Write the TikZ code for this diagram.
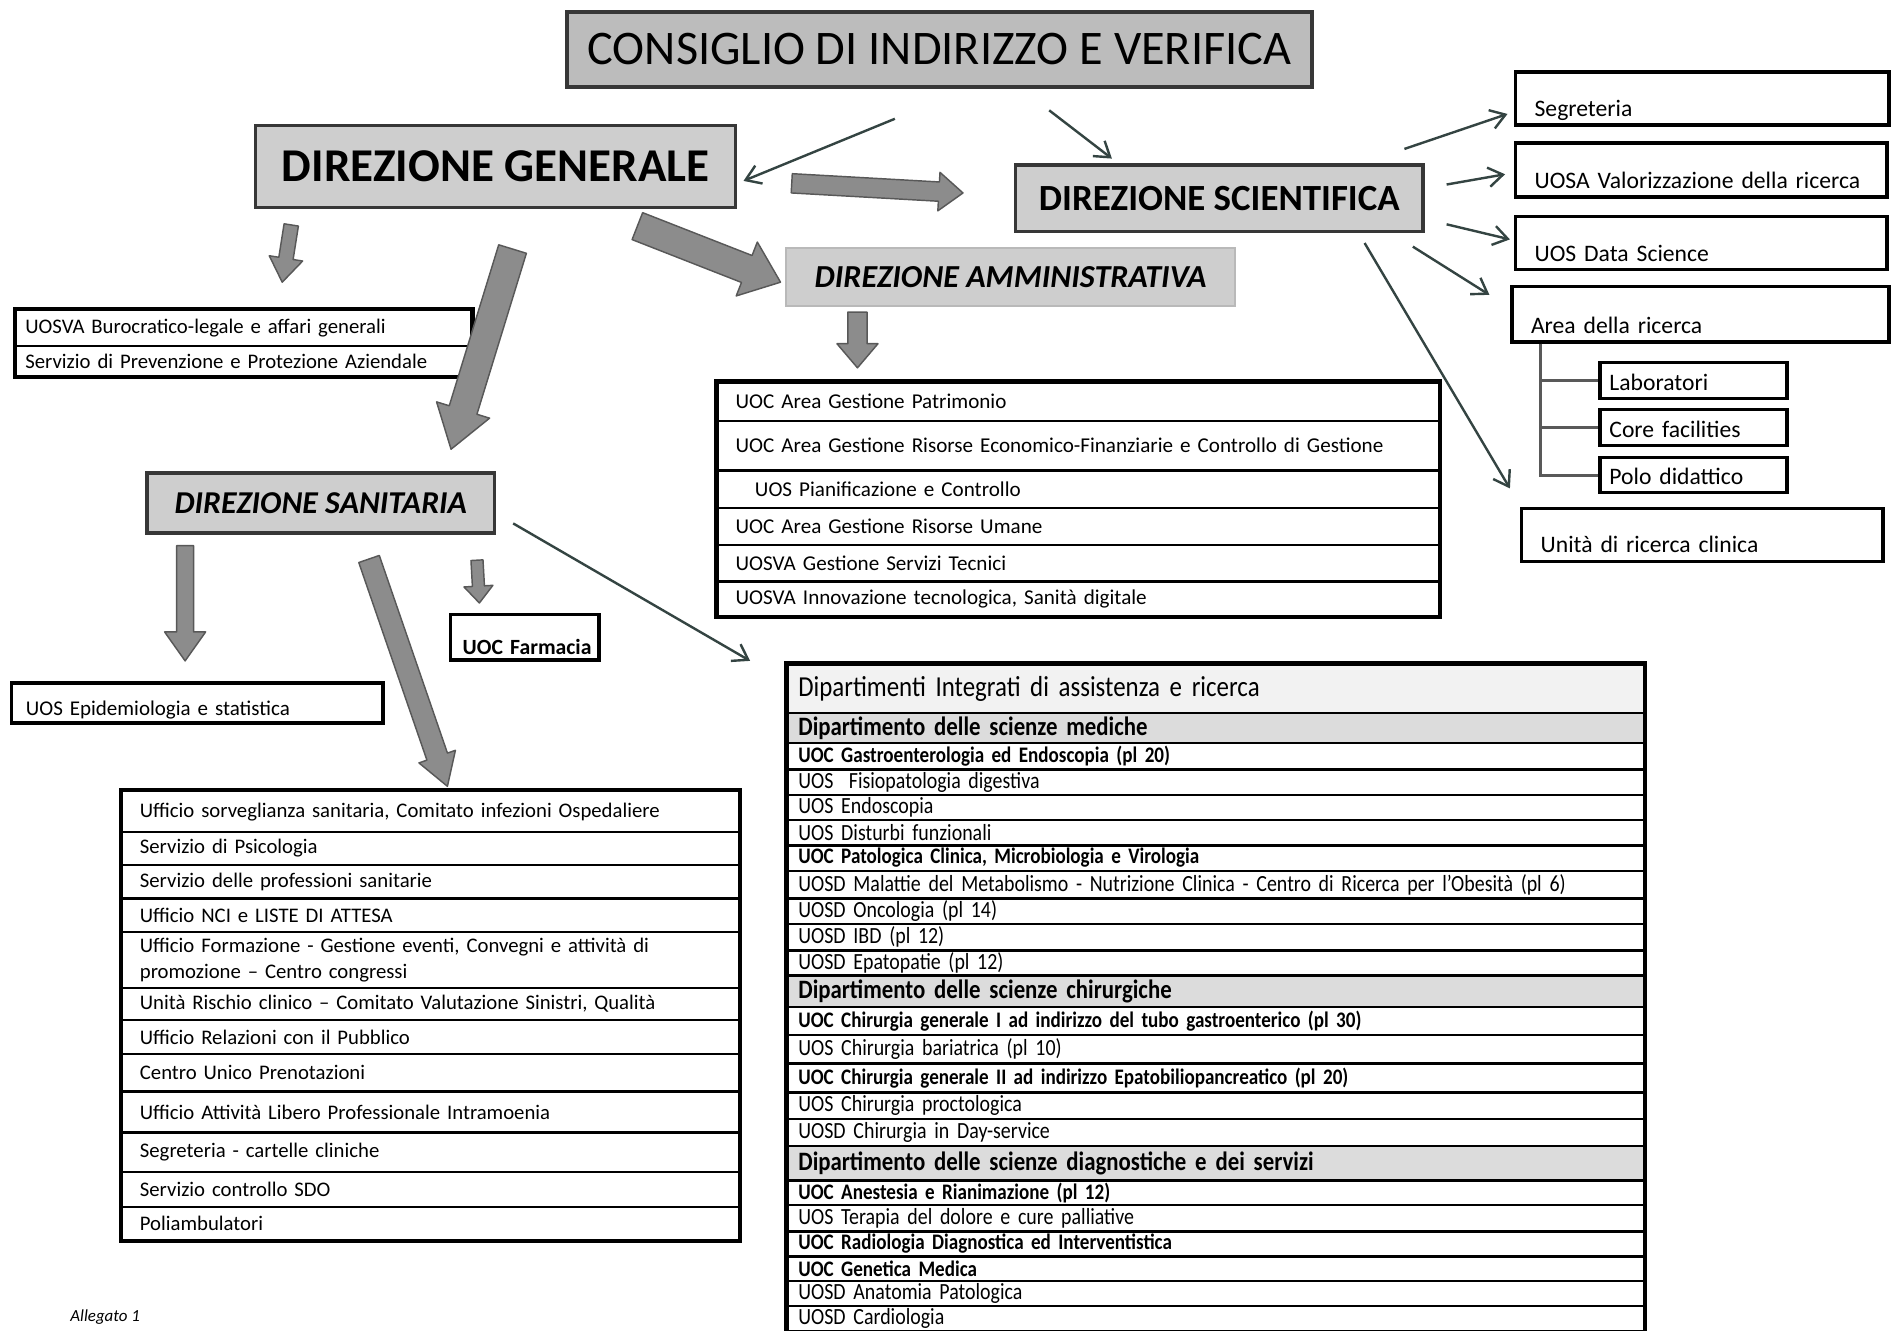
\documentclass[tikz,border=0pt]{standalone}
\usepackage{fontspec}
\setmainfont{Carlito}
\newfontfamily\condfont[FakeStretch=0.86]{Carlito}
\usetikzlibrary{calc,arrows.meta}

\definecolor{boxline}{RGB}{55,55,55}
\definecolor{headfill}{RGB}{188,188,188}
\definecolor{subfill}{RGB}{206,206,206}
\definecolor{arrline}{RGB}{52,68,66}
\definecolor{fatfill}{RGB}{140,140,140}
\definecolor{fatline}{RGB}{88,88,88}
\definecolor{depfill}{RGB}{220,220,220}

\tikzset{
  mainbox/.style={draw=boxline, line width=1.5pt, fill=subfill, inner sep=0pt},
  thinarr/.style={draw=arrline, line width=1pt, -{Straight Barb[length=6pt,width=8pt]}},
  fatarr/.style={draw=fatline, fill=fatfill, line width=0.6pt, line join=round},
  rbox/.style={draw, line width=1.5pt, anchor=north west, align=left, inner xsep=8pt,
    inner ysep=1.5pt, text depth=2pt, font=\fontsize{9.8}{11}\selectfont},
  cell/.style={draw, line width=1pt, anchor=north west, align=left, inner ysep=0pt},
  admcell/.style={text width=284pt, inner xsep=7.5pt, font=\fontsize{8.75}{10}\selectfont},
  sancell/.style={text width=241pt, inner xsep=7.5pt, font=\fontsize{8.6}{10.5}\selectfont},
  vbcell/.style={text width=181pt, inner xsep=4pt, font=\fontsize{8.6}{10}\selectfont},
  dipcell/.style={text width=346pt, inner xsep=4.5pt},
  dhead/.style={fill=gray!10, font=\condfont\fontsize{12}{13}\selectfont},
  ddep/.style={fill=depfill, font=\condfont\bfseries\fontsize{11}{12}\selectfont},
  drow/.style={font=\condfont\fontsize{9.6}{10}\selectfont},
  drowb/.style={font=\condfont\bfseries\fontsize{9.2}{10}\selectfont},
  tabframe/.style={draw, line width=1.6pt},
  tree/.style={draw=gray!70!black, line width=1.2pt},
}

% block arrow: from, to, half shaft, half head, head length
\newcommand{\fatarrow}[5]{%
  \draw[fatarr] let \p1=(#1), \p2=(#2),
    \n1={atan2(\y2-\y1,\x2-\x1)}, \n2={veclen(\x2-\x1,\y2-\y1)-#5} in
    ($(\p1)+(\n1+90:#3)$) -- ($(\p1)+(\n1:\n2)+(\n1+90:#3)$)
    -- ($(\p1)+(\n1:\n2)+(\n1+90:#4)$) -- (\p2)
    -- ($(\p1)+(\n1:\n2)+(\n1-90:#4)$) -- ($(\p1)+(\n1:\n2)+(\n1-90:#3)$)
    -- ($(\p1)+(\n1-90:#3)$) -- cycle;}

\begin{document}
\begin{tikzpicture}[x=0.5pt, y=-0.5pt]
\useasboundingbox (0,0) rectangle (1568,1103);

% direzioni
\node[mainbox, fill=headfill, minimum width=309pt, minimum height=31pt,
  font=\fontsize{20}{24}\selectfont] (civ) at (779,41) {CONSIGLIO DI INDIRIZZO E VERIFICA};
\node[mainbox, minimum width=199pt, minimum height=34pt,
  font=\bfseries\fontsize{19.5}{23}\selectfont] (dg) at (411,138) {DIREZIONE GENERALE};
\node[mainbox, minimum width=169pt, minimum height=27.5pt,
  font=\bfseries\fontsize{15.3}{18}\selectfont] (ds) at (1011,164.5) {DIREZIONE SCIENTIFICA};
\node[mainbox, draw=gray!55, line width=0.8pt, minimum width=186pt, minimum height=24pt,
  font=\bfseries\itshape\fontsize{13.3}{16}\selectfont] (dam) at (838,230) {DIREZIONE AMMINISTRATIVA};
\node[mainbox, minimum width=144pt, minimum height=25pt,
  font=\bfseries\itshape\fontsize{13.2}{16}\selectfont] (dsan) at (266,417) {DIREZIONE SANITARIA};

% direzione scientifica
\node[rbox, text width=139pt, text height=17pt] (segr) at (1255,58) {Segreteria};
\node[rbox, text width=138pt, text height=17.5pt] (uosa) at (1255,117) {UOSA Valorizzazione della ricerca};
\node[rbox, text width=138pt, text height=17pt] (uosds) at (1255,178) {UOS Data Science};
\node[rbox, text width=140.5pt, text height=18pt] (area) at (1252,236) {Area della ricerca};
\node[rbox, inner xsep=4pt, text width=69.5pt, text height=10pt] (lab) at (1325,299) {Laboratori};
\node[rbox, inner xsep=4pt, text width=69.5pt, text height=10pt] (core) at (1325,338) {Core facilities};
\node[rbox, inner xsep=4pt, text width=69.5pt, text height=9.5pt] (polo) at (1325,378) {Polo didattico};
\node[rbox, text width=134pt, text height=17pt] (urc) at (1260,420) {Unità di ricerca clinica};
\draw[tree] ([xshift=12.5pt]area.south west) |- (lab.west);
\draw[tree] ([xshift=12.5pt]area.south west) |- (core.west);
\draw[tree] ([xshift=12.5pt]area.south west) |- (polo.west);

% staff direzione generale
\node[cell, vbcell, minimum height=15pt] (vb1) at (12,256) {UOSVA Burocratico-legale e affari generali};
\node[cell, vbcell, minimum height=12.5pt] (vb2) at (12,286) {Servizio di Prevenzione e Protezione Aziendale};
\draw[tabframe] (vb1.north west) rectangle (vb2.south east);

% area amministrativa
\foreach \ya/\yb/\txt [count=\i] in {316/348/{UOC Area Gestione Patrimonio},
    348/389/{UOC Area Gestione Risorse Economico-Finanziarie e Controllo di Gestione},
    389/420/{\hspace{8pt}UOS Pianificazione e Controllo},
    420/451/{UOC Area Gestione Risorse Umane},
    451/481/{UOSVA Gestione Servizi Tecnici},
    481/510/{UOSVA Innovazione tecnologica, Sanità digitale}}
  \node[cell, admcell, minimum height={(\yb-\ya)*0.5pt}] (adm\i) at (594,\ya) {\txt};
\draw[tabframe] (adm1.north west) rectangle (adm6.south east);

% area sanitaria
\node[draw, line width=1.5pt, anchor=north west, align=right, inner xsep=3pt, inner ysep=1pt,
  text width=55.5pt, text height=15.5pt, text depth=1.5pt,
  font=\bfseries\fontsize{9}{10}\selectfont] (farm) at (372,508) {UOC Farmacia};
\node[draw, line width=1.5pt, anchor=north west, align=left, inner xsep=6pt, inner ysep=1pt,
  text width=142pt, text height=12.5pt, text depth=2pt,
  font=\fontsize{8.7}{10}\selectfont] (epi) at (8,565) {UOS Epidemiologia e statistica};

\foreach \ya/\yb/\txt [count=\i] in {655/689/{Ufficio sorveglianza sanitaria, Comitato infezioni Ospedaliere},
    689/716/{Servizio di Psicologia},
    716/744/{Servizio delle professioni sanitarie},
    744/772/{Ufficio NCI e LISTE DI ATTESA},
    772/818/{Ufficio Formazione - Gestione eventi, Convegni e attività di\\promozione – Centro congressi},
    818/845/{Unità Rischio clinico – Comitato Valutazione Sinistri, Qualità},
    845/873/{Ufficio Relazioni con il Pubblico},
    873/904/{Centro Unico Prenotazioni},
    904/938/{Ufficio Attività Libero Professionale Intramoenia},
    938/971/{Segreteria - cartelle cliniche},
    971/1000/{Servizio controllo SDO},
    1000/1027/{Poliambulatori}}
  \node[cell, sancell, minimum height={(\yb-\ya)*0.5pt}] (san\i) at (100,\ya) {\txt};
\draw[tabframe] (san1.north west) rectangle (san12.south east);

% dipartimenti
\foreach \ya/\yb/\st/\txt [count=\i] in {550/590/dhead/{Dipartimenti Integrati di assistenza e ricerca},
    590/615/ddep/{Dipartimento delle scienze mediche},
    615/637/drowb/{UOC Gastroenterologia ed Endoscopia (pl 20)},
    637/658/drow/{UOS\ \ Fisiopatologia digestiva},
    658/679/drow/{UOS Endoscopia},
    679/700/drow/{UOS Disturbi funzionali},
    700/721/drowb/{UOC Patologica Clinica, Microbiologia e Virologia},
    721/744/drow/{UOSD Malattie del Metabolismo - Nutrizione Clinica - Centro di Ricerca per l’Obesità (pl 6)},
    744/765/drow/{UOSD Oncologia (pl 14)},
    765/787/drow/{UOSD IBD (pl 12)},
    787/808/drow/{UOSD Epatopatie (pl 12)},
    808/834/ddep/{Dipartimento delle scienze chirurgiche},
    834/857/drowb/{UOC Chirurgia generale I ad indirizzo del tubo gastroenterico (pl 30)},
    857/881/drow/{UOS Chirurgia bariatrica (pl 10)},
    881/905/drowb/{UOC Chirurgia generale II ad indirizzo Epatobiliopancreatico (pl 20)},
    905/927/drow/{UOS Chirurgia proctologica},
    927/949/drow/{UOSD Chirurgia in Day-service},
    949/978/ddep/{Dipartimento delle scienze diagnostiche e dei servizi},
    978/998/drowb/{UOC Anestesia e Rianimazione (pl 12)},
    998/1020/drow/{UOS Terapia del dolore e cure palliative},
    1020/1041/drowb/{UOC Radiologia Diagnostica ed Interventistica},
    1041/1061/drowb/{UOC Genetica Medica},
    1061/1082/drow/{UOSD Anatomia Patologica},
    1082/1103/drow/{UOSD Cardiologia}}
  \node[cell, dipcell, \st, minimum height={(\yb-\ya)*0.5pt}] (dip\i) at (652,\ya) {\txt};
\draw[tabframe] (dip1.north west) rectangle (dip24.south east);

% frecce sottili
\draw[thinarr] ($(civ.south)+(-37,25)$) -- ($(dg.east)+(5,12)$);
\draw[thinarr] ($(civ.south)+(91,18)$) -- ($(ds.north)+(-89,-4)$);
\draw[thinarr] ($(ds.north east)+(-17,-12)$) -- ($(segr.west)+(-5,13)$);
\draw[thinarr] ($(ds.east)+(18,-11.5)$) -- ($(uosa.west)+(-7,3.5)$);
\draw[thinarr] ($(ds.east)+(18,21.5)$) -- ($(uosds.west)+(-3,-3)$);
\draw[thinarr] ($(ds.south east)+(-10,11)$) -- ($(area.west)+(-17,-16)$);
\draw[thinarr] ($(ds.south east)+(-50,8)$) -- ($(urc.north west)+(-8,-15)$);
\draw[thinarr] ($(dsan.east)+(14,17)$) -- ($(dip1.north west)+(-30,-2)$);

% frecce grandi
\fatarrow{$(dg.east)+(45,14)$}{$(ds.west)+(-42,-4.5)$}{4pt}{8pt}{10pt}
\fatarrow{$(dg.south east)+(-83,14)$}{$(dam.west)+(-4,4)$}{6pt}{12pt}{15pt}
\fatarrow{$(dg.south west)+(31,13)$}{$(vb1.north)+(32,-22)$}{3pt}{7pt}{10pt}
\fatarrow{$(dg.south)+(14,33)$}{$(dsan.north)+(108,-18)$}{6pt}{11.5pt}{17pt}
\fatarrow{$(dam.south)+(-127,4)$}{$(adm1.north west)+(117,-11)$}{4pt}{8.5pt}{10pt}
\fatarrow{$(dsan.south west)+(33,9)$}{$(epi.north)+(-10,-17)$}{3.5pt}{8.5pt}{12pt}
\fatarrow{$(dsan.south east)+(-16,21)$}{$(farm.north)+(-37.5,-8)$}{2.5pt}{6pt}{7pt}
\fatarrow{$(dsan.south)+(40,20)$}{$(san1.north)+(14,-3)$}{4.5pt}{8pt}{13pt}

\node[anchor=north west, inner sep=0pt, font=\itshape\fontsize{7}{8}\selectfont] (alleg) at (58,1086) {Allegato 1};
\end{tikzpicture}
\end{document}
